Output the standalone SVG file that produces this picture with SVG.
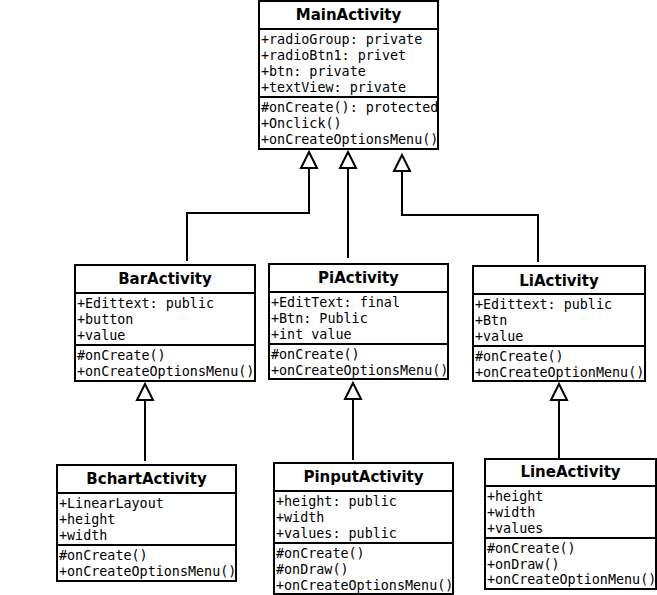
<svg xmlns="http://www.w3.org/2000/svg" width="657" height="595" viewBox="0 0 657 595">
<style>
.box{fill:#fff;stroke:#000;stroke-width:2}
.div{stroke:#000;stroke-width:2}
.t{font-family:"DejaVu Sans",sans-serif;font-weight:bold;font-size:15px;text-anchor:middle;fill:#000}
.m{font-family:"DejaVu Sans Mono",monospace;font-size:13.4px;fill:#000}
.c{fill:none;stroke:#000;stroke-width:2}
.tri{fill:#fff;stroke:#000;stroke-width:2;stroke-linejoin:miter}
</style>
<rect width="657" height="595" fill="#fff"/>
<g id="connectors">
<polyline class="c" points="309,168 309,213 187,213 187,261"/>
<polyline class="c" points="348,168 348,258"/>
<polyline class="c" points="402,171 402,215 538,215 538,262"/>
<polyline class="c" points="145,399 145,461"/>
<polyline class="c" points="353,399 353,460"/>
<polyline class="c" points="559,400 559,459 578,459"/>
<polygon class="tri" points="309,152 301,168 317,168"/>
<polygon class="tri" points="348,152 340,168 356,168"/>
<polygon class="tri" points="402,155 394,171 410,171"/>
<polygon class="tri" points="145,384 137,400 153,400"/>
<polygon class="tri" points="353,383 345,399 361,399"/>
<polygon class="tri" points="559,384 551,400 567,400"/>
</g>
<g id="MainActivity">
<rect class="box" x="259" y="1" width="179" height="148"/>
<line class="div" x1="259" y1="29" x2="438" y2="29"/>
<line class="div" x1="259" y1="97" x2="438" y2="97"/>
<text class="t" x="348.5" y="20">MainActivity</text>
<text class="m" x="261" y="44">+radioGroup: private</text>
<text class="m" x="261" y="60">+radioBtn1: privet</text>
<text class="m" x="261" y="76">+btn: private</text>
<text class="m" x="261" y="92">+textView: private</text>
<text class="m" x="261" y="112">#onCreate(): protected</text>
<text class="m" x="261" y="128">+Onclick()</text>
<text class="m" x="261" y="144">+onCreateOptionsMenu()</text>
</g>
<g id="BarActivity">
<rect class="box" x="75" y="265" width="180" height="116"/>
<line class="div" x1="75" y1="293" x2="255" y2="293"/>
<line class="div" x1="75" y1="345" x2="255" y2="345"/>
<text class="t" x="165" y="284">BarActivity</text>
<text class="m" x="77" y="307.5">+Edittext: public</text>
<text class="m" x="77" y="323.5">+button</text>
<text class="m" x="77" y="339.5">+value</text>
<text class="m" x="77" y="359.5">#onCreate()</text>
<text class="m" x="77" y="375.5">+onCreateOptionsMenu()</text>
</g>
<g id="PiActivity">
<rect class="box" x="269" y="264" width="179" height="115"/>
<line class="div" x1="269" y1="292" x2="448" y2="292"/>
<line class="div" x1="269" y1="344" x2="448" y2="344"/>
<text class="t" x="358.5" y="283">PiActivity</text>
<text class="m" x="271" y="306.5">+EditText: final</text>
<text class="m" x="271" y="322.5">+Btn: Public</text>
<text class="m" x="271" y="338.5">+int value</text>
<text class="m" x="271" y="358.5">#onCreate()</text>
<text class="m" x="271" y="374.5">+onCreateOptionsMenu()</text>
</g>
<g id="LiActivity">
<rect class="box" x="473" y="266" width="172" height="115"/>
<line class="div" x1="473" y1="294" x2="645" y2="294"/>
<line class="div" x1="473" y1="346" x2="645" y2="346"/>
<text class="t" x="559" y="286">LiActivity</text>
<text class="m" x="475" y="308.5">+Edittext: public</text>
<text class="m" x="475" y="324.5">+Btn</text>
<text class="m" x="475" y="340.5">+value</text>
<text class="m" x="475" y="360.5">#onCreate()</text>
<text class="m" x="475" y="376.5">+onCreateOptionMenu()</text>
</g>
<g id="BchartActivity">
<rect class="box" x="57" y="465" width="179" height="116"/>
<line class="div" x1="57" y1="493" x2="236" y2="493"/>
<line class="div" x1="57" y1="545" x2="236" y2="545"/>
<text class="t" x="146.5" y="484">BchartActivity</text>
<text class="m" x="59" y="507.5">+LinearLayout</text>
<text class="m" x="59" y="523.5">+height</text>
<text class="m" x="59" y="539.5">+width</text>
<text class="m" x="59" y="559.5">#onCreate()</text>
<text class="m" x="59" y="575.5">+onCreateOptionsMenu()</text>
</g>
<g id="PinputActivity">
<rect class="box" x="274" y="463" width="179" height="131"/>
<line class="div" x1="274" y1="491" x2="453" y2="491"/>
<line class="div" x1="274" y1="543" x2="453" y2="543"/>
<text class="t" x="363.5" y="482">PinputActivity</text>
<text class="m" x="276" y="505.5">+height: public</text>
<text class="m" x="276" y="521.5">+width</text>
<text class="m" x="276" y="537.5">+values: public</text>
<text class="m" x="276" y="557.5">#onCreate()</text>
<text class="m" x="276" y="573.5">#onDraw()</text>
<text class="m" x="276" y="589.5">+onCreateOptionsMenu()</text>
</g>
<g id="LineActivity">
<rect class="box" x="485" y="459" width="171" height="130"/>
<line class="div" x1="485" y1="486" x2="656" y2="486"/>
<line class="div" x1="485" y1="538" x2="656" y2="538"/>
<text class="t" x="570.5" y="477">LineActivity</text>
<text class="m" x="487" y="500.5">+height</text>
<text class="m" x="487" y="516.5">+width</text>
<text class="m" x="487" y="532.5">+values</text>
<text class="m" x="487" y="552.5">#onCreate()</text>
<text class="m" x="487" y="568.5">+onDraw()</text>
<text class="m" x="487" y="583.5">+onCreateOptionMenu()</text>
</g>
</svg>
